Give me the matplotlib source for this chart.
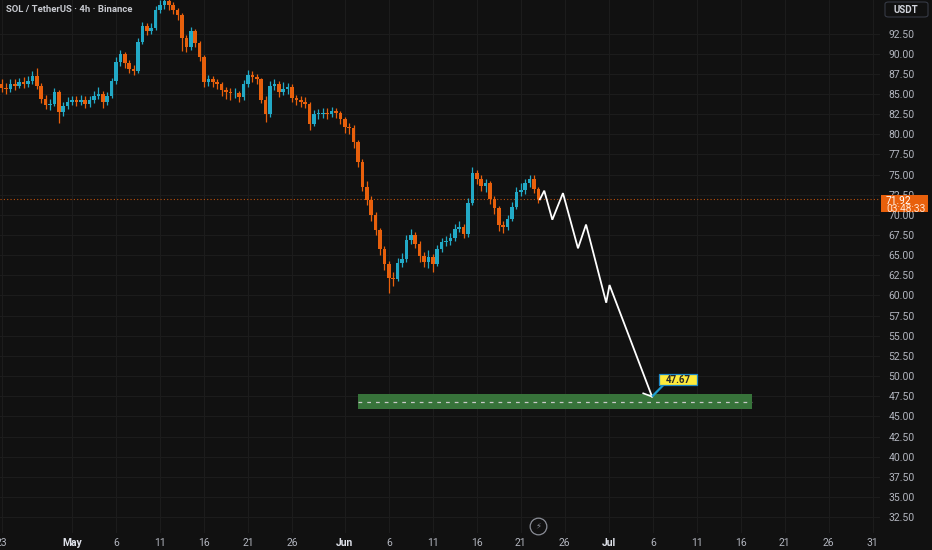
import datetime as dt
import numpy as np
import matplotlib
matplotlib.use("Agg")
import matplotlib.pyplot as plt
import matplotlib.dates as mdates
from matplotlib.patches import Rectangle, FancyBboxPatch

# 12h candles, SOL / TetherUS, starting Apr 23
first_open = 86.2
closes = [85.8, 85.6, 86.3, 86.0, 86.5, 86.3, 86.6, 87.2, 86.0, 84.4,
          83.6, 83.8, 85.2, 82.8, 83.5, 84.0, 84.2, 84.0, 84.3, 83.8,
          84.2, 84.8, 85.0, 84.0, 84.8, 86.6, 89.0, 90.0, 88.8, 88.1,
          87.9, 91.5, 93.4, 92.8, 93.2, 95.4, 96.1, 96.5, 96.0, 95.4,
          94.8, 92.0, 90.8, 92.8, 91.3, 89.6, 86.5, 86.8, 86.5, 86.2,
          85.5, 85.2, 85.1, 85.1, 84.6, 86.2, 87.4, 87.1, 86.8, 84.3,
          82.5, 86.0, 86.3, 85.3, 85.6, 85.9, 84.5, 84.2, 84.0, 83.8,
          81.3, 82.5, 82.5, 82.7, 82.5, 82.9, 82.6, 81.9, 80.9, 80.8,
          79.0, 76.5, 73.5, 71.9, 70.0, 68.1, 65.8, 63.9, 62.2, 62.1,
          64.0, 64.5, 66.9, 67.5, 66.4, 64.9, 64.1, 64.8, 63.9, 65.8,
          66.6, 66.7, 67.1, 68.3, 68.5, 67.6, 71.5, 75.2, 74.4, 73.6,
          73.9, 72.0, 70.8, 68.8, 68.5, 69.5, 71.0, 72.8, 73.1, 73.9,
          74.4, 73.2, 71.92]
highs = [86.9, 86.4, 86.9, 86.8, 87.0, 87.1, 87.2, 87.8, 88.2, 86.4,
         84.9, 84.4, 85.8, 85.5, 84.0, 84.6, 84.8, 84.7, 84.9, 84.8,
         84.7, 85.4, 85.9, 85.4, 85.3, 87.0, 89.6, 90.4, 90.2, 89.2,
         88.6, 92.0, 93.9, 93.8, 93.8, 95.9, 96.6, 97.2, 96.9, 96.4,
         95.7, 95.0, 92.3, 93.3, 93.0, 91.6, 89.8, 87.4, 87.2, 86.9,
         86.5, 85.9, 85.7, 85.8, 85.4, 86.7, 88.0, 87.9, 87.5, 87.0,
         84.7, 86.6, 86.9, 86.6, 86.5, 86.4, 86.2, 84.9, 84.8, 84.6,
         84.0, 83.0, 83.1, 83.2, 83.2, 83.4, 83.3, 82.9, 82.2, 81.4,
         81.1, 79.3, 76.9, 74.2, 72.4, 70.4, 68.4, 66.2, 64.3, 62.9,
         64.6, 65.3, 67.5, 68.2, 67.9, 66.8, 65.4, 65.6, 65.2, 66.3,
         67.1, 67.4, 67.7, 68.9, 69.2, 68.9, 72.1, 76.0, 75.6, 74.9,
         74.5, 74.2, 72.4, 71.1, 69.2, 70.0, 71.6, 73.4, 73.9, 74.5,
         75.0, 74.9, 73.5]
lows = [85.2, 85.0, 85.3, 85.5, 85.7, 85.8, 85.9, 86.2, 85.6, 83.9,
        83.1, 83.0, 83.5, 81.4, 82.3, 83.1, 83.6, 83.5, 83.6, 83.3,
        83.4, 83.9, 84.4, 83.2, 83.6, 84.5, 86.3, 88.5, 88.2, 87.6,
        87.3, 87.6, 91.2, 92.3, 92.4, 92.9, 95.0, 95.6, 95.4, 94.9,
        94.2, 90.3, 90.2, 90.5, 90.8, 89.1, 85.9, 86.0, 85.9, 85.6,
        84.8, 84.4, 84.3, 84.5, 84.0, 84.3, 85.9, 86.5, 86.2, 83.9,
        81.5, 82.2, 85.5, 84.6, 84.9, 85.0, 84.0, 83.6, 83.4, 83.2,
        80.5, 81.0, 81.9, 82.0, 81.9, 82.1, 82.0, 81.3, 80.2, 80.0,
        78.3, 75.9, 73.0, 71.2, 69.3, 67.5, 65.0, 63.2, 60.3, 61.2,
        61.8, 63.5, 64.2, 66.4, 65.9, 64.2, 63.5, 63.4, 62.9, 63.6,
        65.4, 66.1, 66.3, 66.8, 67.9, 67.1, 67.3, 71.2, 73.8, 73.0,
        72.9, 71.4, 70.1, 68.0, 67.8, 68.1, 69.2, 70.7, 72.3, 72.6,
        73.5, 72.7, 71.5]

# projected path
path_times = ["2025-06-23 04:00", "2025-06-23 16:00", "2025-06-24 14:00",
              "2025-06-25 19:00", "2025-06-27 12:00", "2025-06-28 10:00",
              "2025-06-30 17:00", "2025-07-01 02:00", "2025-07-05 22:00"]
path_prices = [71.92, 73.0, 69.4, 72.7, 65.85, 68.8, 59.1, 61.3, 47.45]

zone_start, zone_end = "2025-06-02 12:00", "2025-07-17 07:00"
zone_low, zone_high, zone_mid = 45.87, 47.74, 46.78
target_label = "47.67"
last_price = 71.92
countdown = "03:48:33"

price_ticks = np.arange(32.5, 93.0, 2.5)
date_ticks = ["2025-04-23", "2025-05-01", "2025-05-06", "2025-05-11", "2025-05-16",
              "2025-05-21", "2025-05-26", "2025-06-01", "2025-06-06", "2025-06-11",
              "2025-06-16", "2025-06-21", "2025-06-26", "2025-07-01", "2025-07-06",
              "2025-07-11", "2025-07-16", "2025-07-21", "2025-07-26", "2025-07-31"]
date_labels = ["23", "May", "6", "11", "16", "21", "26", "Jun", "6", "11",
               "16", "21", "26", "Jul", "6", "11", "16", "21", "26", "31"]

BG = "#111111"
GRID = "#1c1c1c"
UP = "#22a9c6"
DOWN = "#e8600c"
TXT = "#b2b5be"

plt.rcParams["font.family"] = ["Roboto", "DejaVu Sans"]

def d(s):
    return mdates.date2num(dt.datetime.fromisoformat(s))

fig = plt.figure(figsize=(9.32, 5.5), dpi=100, facecolor=BG)
ax = fig.add_axes([0, 17 / 550, 880 / 932, 533 / 550], facecolor=BG)

# candles
start = dt.datetime(2025, 4, 23, 0)
t = mdates.date2num([start + dt.timedelta(hours=12 * i) for i in range(len(closes))])
o = np.array([first_open] + closes[:-1])
c = np.array(closes)
h = np.array(highs)
l = np.array(lows)
cols = np.where(c >= o, UP, DOWN)
ax.vlines(t, l, h, colors=cols, lw=0.9, zorder=3)
ax.bar(t, np.maximum(np.abs(c - o), 0.08), bottom=np.minimum(o, c), width=0.4,
       color=cols, linewidth=0, zorder=3)

# last price line
ax.axhline(last_price, color=DOWN, lw=0.8, ls=(0, (1, 2)), alpha=0.8, zorder=2)

# target zone
ax.add_patch(Rectangle((d(zone_start), zone_low), d(zone_end) - d(zone_start),
                       zone_high - zone_low, facecolor="#37733a", edgecolor="none", zorder=4))
ax.plot([d(zone_start), d(zone_end)], [zone_mid, zone_mid], color="#c9c9c9",
        lw=0.9, ls=(0, (3, 4)), zorder=5)

# projected zigzag
ax.plot([d(s) for s in path_times], path_prices, color="white", lw=1.3, zorder=6,
        solid_joinstyle="miter")
ax.plot([d("2025-07-04 22:00"), d(path_times[-1])], [47.86, path_prices[-1]],
        color="white", lw=1.2, zorder=6)

# target label: pointer + yellow box
lx0, lx1 = d("2025-07-06 17:00"), d("2025-07-11 00:30")
ly0, ly1 = 48.85, 50.25
ax.plot([d(path_times[-1]), d("2025-07-07 04:00")], [path_prices[-1], ly0],
        color="#1e9bd0", lw=1.6, zorder=7, solid_capstyle="butt")
ax.add_patch(Rectangle((lx0, ly0), lx1 - lx0, ly1 - ly0, facecolor="#ffeb3b",
                       edgecolor="#1e88c8", lw=0.9, zorder=8))
ax.text((lx0 + lx1) / 2, (ly0 + ly1) / 2, target_label, ha="center", va="center",
        fontsize=7, fontweight="bold", color="#2a2a2a", zorder=9)

ax.set_xlim(d("2025-04-22 19:41"), d("2025-07-31 19:41"))
ax.set_ylim(30.53, 96.66)

ax.set_xticks([d(s) for s in date_ticks])
ax.set_xticklabels(date_labels)
ax.set_yticks(price_ticks)
ax.set_yticklabels([f"{v:.2f}" for v in price_ticks])
ax.yaxis.tick_right()
ax.tick_params(axis="y", length=0, pad=6, labelsize=7.5, labelcolor=TXT)
ax.tick_params(axis="x", length=0, pad=3.5, labelsize=7.5, labelcolor=TXT)
for lab in ax.get_xticklabels():
    if lab.get_text() in ("May", "Jun", "Jul"):
        lab.set_color("#e0e3eb")
        lab.set_fontweight("bold")
ax.grid(True, color=GRID, lw=0.8)
ax.set_axisbelow(True)
for sp in ax.spines.values():
    sp.set_visible(False)

# header
fig.text(6 / 932, 1 - 9 / 550, "SOL / TetherUS · 4h · Binance", color="#c8cad0",
         fontsize=6.8, fontweight="semibold", va="center", ha="left")

# currency box
fig.patches.append(FancyBboxPatch((885 / 932, 1 - 17 / 550), 43 / 932, 15 / 550,
                                  boxstyle="round,pad=0,rounding_size=0.004",
                                  fc=BG, ec="#363a45", lw=0.8, transform=fig.transFigure))
fig.text(906 / 932, 1 - 10 / 550, "USDT", color="#d1d4dc", fontsize=7,
         fontweight="bold", ha="center", va="center")

# last price badge, drawn above the axes so it covers the tick labels behind it
ypix = 33.5 + (92.5 - last_price) * 8.06
fig.patches.append(Rectangle((881 / 932, 1 - (ypix + 13) / 550), 47 / 932, 17.5 / 550,
                             transform=fig.transFigure, facecolor=DOWN,
                             edgecolor="none", zorder=10))
fig.text(886 / 932, 1 - (ypix + 1.5) / 550, f"{last_price:.2f}", color="white",
         fontsize=7.3, va="center", ha="left", zorder=11)
fig.text(886 / 932, 1 - (ypix + 9.5) / 550, countdown, color="#ffe3cf",
         fontsize=7.3, va="center", ha="left", zorder=11)

# small lightning badge
ax.plot([538 / 880], [7 / 533], transform=ax.transAxes, marker="o", ms=12,
        mfc=BG, mec="#8a8d96", mew=0.9, clip_on=False, zorder=9)
ax.text(538 / 880, 7 / 533, "⚡", transform=ax.transAxes, ha="center", va="center",
        fontsize=6, color="#8a8d96", family=["DejaVu Sans"], zorder=10, clip_on=False)

fig.savefig("out.png", dpi=100, facecolor=BG)
